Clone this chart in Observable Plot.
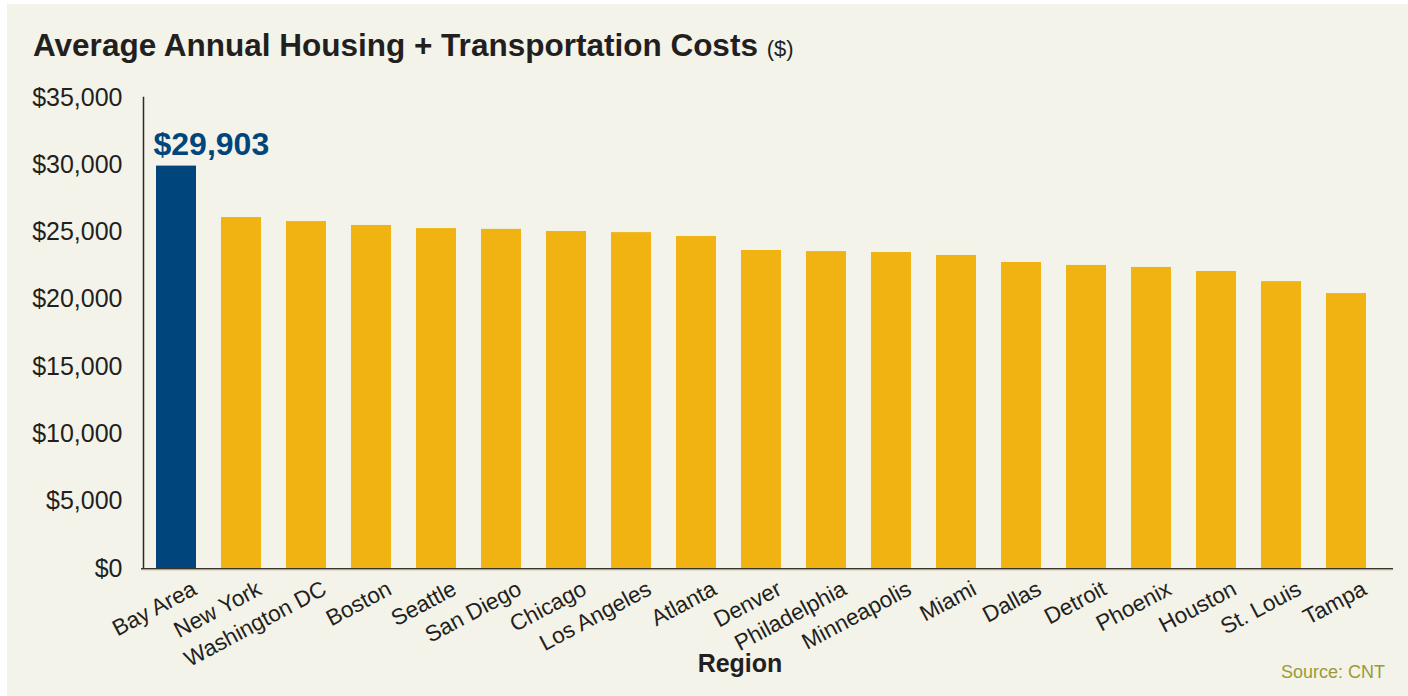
<!DOCTYPE html>
<html><head><meta charset="utf-8">
<script src="https://cdn.jsdelivr.net/npm/d3@7"></script>
<script src="https://cdn.jsdelivr.net/npm/@observablehq/plot@0.6"></script>
<style>
html,body{margin:0;padding:0;background:#fff;width:1408px;height:696px;overflow:hidden;font-family:"Liberation Sans",Arial,sans-serif}
#panel{position:absolute;left:7px;top:4px;width:1401px;height:692px;background:#f3f3e9}
#title{position:absolute;left:26px;top:25px;line-height:32px;font-size:31.5px;font-weight:bold;color:#231f20;white-space:nowrap}
#title span{font-weight:normal;font-size:22px}
#chart{position:absolute;left:0;top:76px}
#xlabel{position:absolute;left:633px;top:647px;width:200px;text-align:center;font-size:25px;line-height:25px;font-weight:bold;color:#231f20}
#source{position:absolute;right:23px;top:659px;font-size:18px;line-height:18px;color:#9b9a36;white-space:nowrap}
</style></head>
<body>
<div id="panel">
  <div id="title">Average Annual Housing + Transportation Costs <span>($)</span></div>
  <div id="chart"></div>
  <div id="xlabel">Region</div>
  <div id="source">Source: CNT</div>
</div>
<script>
const regions = ["Bay Area","New York","Washington DC","Boston","Seattle","San Diego","Chicago","Los Angeles","Atlanta","Denver","Philadelphia","Minneapolis","Miami","Dallas","Detroit","Phoenix","Houston","St. Louis","Tampa"];
const costs = [29903,26080,25780,25490,25260,25200,25040,24960,24670,23630,23550,23480,23260,22740,22520,22370,22070,21320,20430];
const highlight = "Bay Area";
const yTicks = [0,5000,10000,15000,20000,25000,30000,35000];

const data = regions.map((r,i)=>({region:r, cost:costs[i]}));
const fmt = d3.format(",");
const plot = Plot.plot({
  width:1401, height:616,
  marginLeft:136, marginRight:15, marginTop:17, marginBottom:128,
  style:{background:"transparent", fontFamily:"Liberation Sans, Arial, sans-serif", color:"#231f20", overflow:"visible"},
  x:{domain:regions, paddingInner:0.387, paddingOuter:0.279, align:0.33, axis:null},
  y:{domain:[0,35000], axis:null},
  marks:[
    Plot.barY(data,{x:"region", y:"cost", fill:d=>d.region===highlight?"#00457c":"#f0b312"}),
    Plot.axisY({ticks:yTicks, tickSize:0, tickPadding:21, tickFormat:d=>"$"+fmt(d), fontSize:25, label:null}),
    Plot.frame({anchor:"left", stroke:"#2f2a26", strokeWidth:1.5}),
    Plot.ruleY([0],{stroke:"#3b342c", strokeWidth:1.2, insetLeft:-2}),
    Plot.ruleY([0],{stroke:"#a8a290", strokeWidth:1.2, dy:1.2, insetLeft:-2}),
    Plot.text(data,{x:"region", y:()=>0, text:"region", rotate:-28, textAnchor:"end", lineAnchor:"top", dx:14, dy:11, fontSize:22.5, fill:"#231f20"}),
    Plot.text(data.filter(d=>d.region===highlight),{x:"region", y:"cost", text:d=>"$"+fmt(d.cost), textAnchor:"start", lineAnchor:"bottom", dx:-23, dy:-11, fontSize:32, fontWeight:"bold", fill:"#00457c"})
  ]
});
document.getElementById("chart").appendChild(plot);
</script>
</body></html>
